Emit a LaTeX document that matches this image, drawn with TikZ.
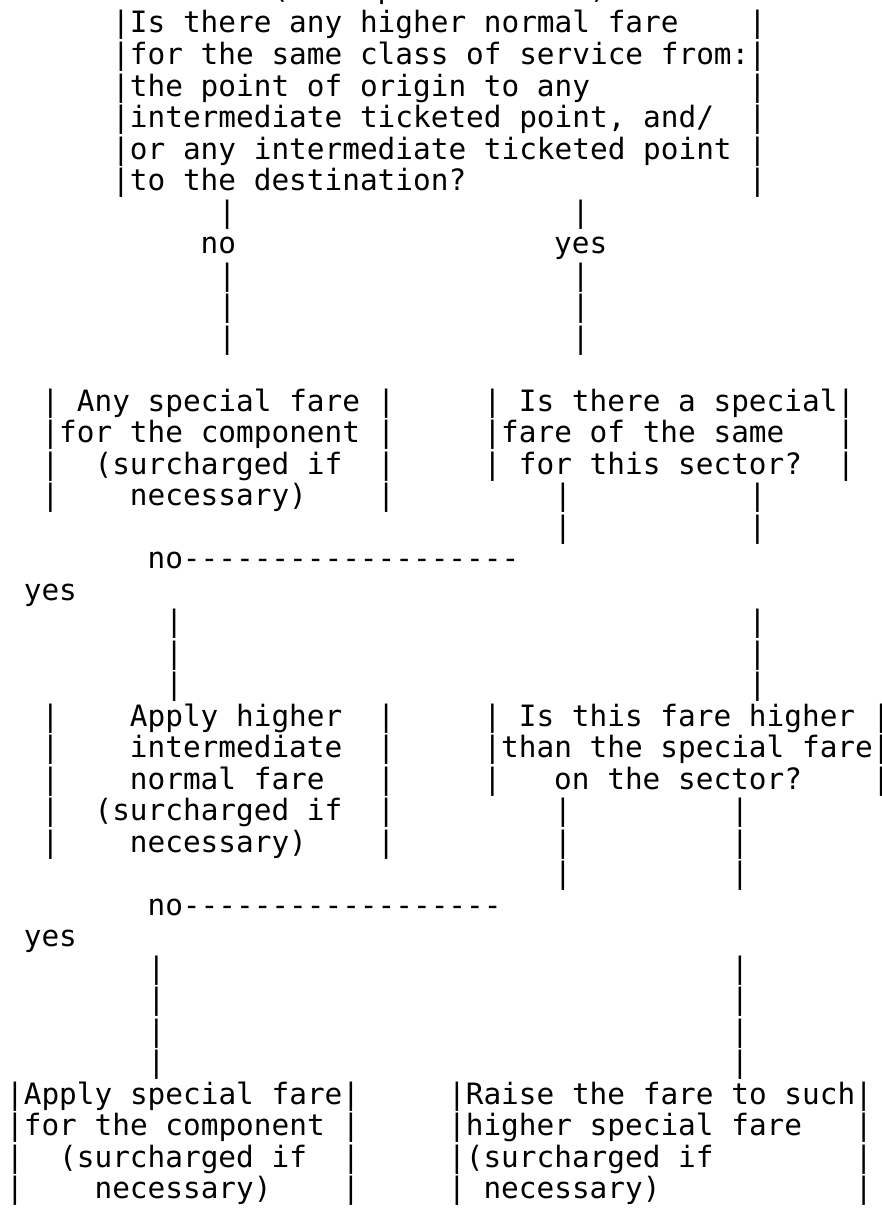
\documentclass[tikz,border=0pt]{standalone}
\usepackage{fontspec}
\newfontfamily\asciifont{DejaVu Sans Mono}
\frenchspacing
\newcommand\colw{17.68}
\newcommand\colx{6.16}
\newcommand\rowh{31.5}
\newcommand\rowy{33}
\newcommand\hy{-\kern0pt}
\tikzset{ascii/.style={anchor=base west, inner sep=0pt, outer sep=0pt,
  font=\asciifont\fontsize{29.4}{31.5}\selectfont, text=black}}
\newcommand\putat[3]{\node[ascii] (t#2x#1) at ({\colx+#1*\colw},{\rowy+(#2-1)*\rowh}) {#3};}
\newcommand\vbar[2]{\putat{#1}{#2}{|}}
\begin{document}
\begin{tikzpicture}[x=1pt,y=-1pt]
\useasboundingbox (0,0) rectangle (882,1215);
\fill[white] (0,0) rectangle (882,1215);
% row 0 (cut off at the top edge)
\node[ascii] (t0x15) at ({\colx+15*\colw},-1.5) {(fare point checks)};
% top box
\vbar{6}{1}\putat{7}{1}{Is there any higher normal fare}\vbar{42}{1}
\vbar{6}{2}\putat{7}{2}{for the same class of service from:}\vbar{42}{2}
\vbar{6}{3}\putat{7}{3}{the point of origin to any}\vbar{42}{3}
\vbar{6}{4}\putat{7}{4}{intermediate ticketed point, and/}\vbar{42}{4}
\vbar{6}{5}\putat{7}{5}{or any intermediate ticketed point}\vbar{42}{5}
\vbar{6}{6}\putat{7}{6}{to the destination?}\vbar{42}{6}
\vbar{12}{7}\vbar{32}{7}
\putat{11}{8}{no}\putat{31}{8}{yes}
\vbar{12}{9}\vbar{32}{9}
\vbar{12}{10}\vbar{32}{10}
\vbar{12}{11}\vbar{32}{11}
% second level
\vbar{2}{13}\putat{4}{13}{Any special fare}\vbar{21}{13}
\vbar{27}{13}\putat{29}{13}{Is there a special}\vbar{47}{13}
\vbar{2}{14}\putat{3}{14}{for the component}\vbar{21}{14}
\vbar{27}{14}\putat{28}{14}{fare of the same}\vbar{47}{14}
\vbar{2}{15}\putat{5}{15}{(surcharged if}\vbar{21}{15}
\vbar{27}{15}\putat{29}{15}{for this sector?}\vbar{47}{15}
\vbar{2}{16}\putat{7}{16}{necessary)}\vbar{21}{16}
\vbar{31}{16}\vbar{42}{16}
\vbar{31}{17}\vbar{42}{17}
\putat{8}{18}{no\hy\hy\hy\hy\hy\hy\hy\hy\hy\hy\hy\hy\hy\hy\hy\hy\hy\hy\hy}
\putat{1}{19}{yes}
\vbar{9}{20}\vbar{42}{20}
\vbar{9}{21}\vbar{42}{21}
\vbar{9}{22}\vbar{42}{22}
% third level
\vbar{2}{23}\putat{7}{23}{Apply higher}\vbar{21}{23}
\vbar{27}{23}\putat{29}{23}{Is this fare higher}\vbar{49}{23}
\vbar{2}{24}\putat{7}{24}{intermediate}\vbar{21}{24}
\vbar{27}{24}\putat{28}{24}{than the special fare}\vbar{49}{24}
\vbar{2}{25}\putat{7}{25}{normal fare}\vbar{21}{25}
\vbar{27}{25}\putat{31}{25}{on the sector?}\vbar{49}{25}
\vbar{2}{26}\putat{5}{26}{(surcharged if}\vbar{21}{26}
\vbar{31}{26}\vbar{41}{26}
\vbar{2}{27}\putat{7}{27}{necessary)}\vbar{21}{27}
\vbar{31}{27}\vbar{41}{27}
\vbar{31}{28}\vbar{41}{28}
\putat{8}{29}{no\hy\hy\hy\hy\hy\hy\hy\hy\hy\hy\hy\hy\hy\hy\hy\hy\hy\hy}
\putat{1}{30}{yes}
\vbar{8}{31}\vbar{41}{31}
\vbar{8}{32}\vbar{41}{32}
\vbar{8}{33}\vbar{41}{33}
\vbar{8}{34}\vbar{41}{34}
% bottom level
\vbar{0}{35}\putat{1}{35}{Apply special fare}\vbar{19}{35}
\vbar{25}{35}\putat{26}{35}{Raise the fare to such}\vbar{48}{35}
\vbar{0}{36}\putat{1}{36}{for the component}\vbar{19}{36}
\vbar{25}{36}\putat{26}{36}{higher special fare}\vbar{48}{36}
\vbar{0}{37}\putat{3}{37}{(surcharged if}\vbar{19}{37}
\vbar{25}{37}\putat{26}{37}{(surcharged if}\vbar{48}{37}
\vbar{0}{38}\putat{5}{38}{necessary)}\vbar{19}{38}
\vbar{25}{38}\putat{27}{38}{necessary)}\vbar{48}{38}
\end{tikzpicture}
\end{document}
